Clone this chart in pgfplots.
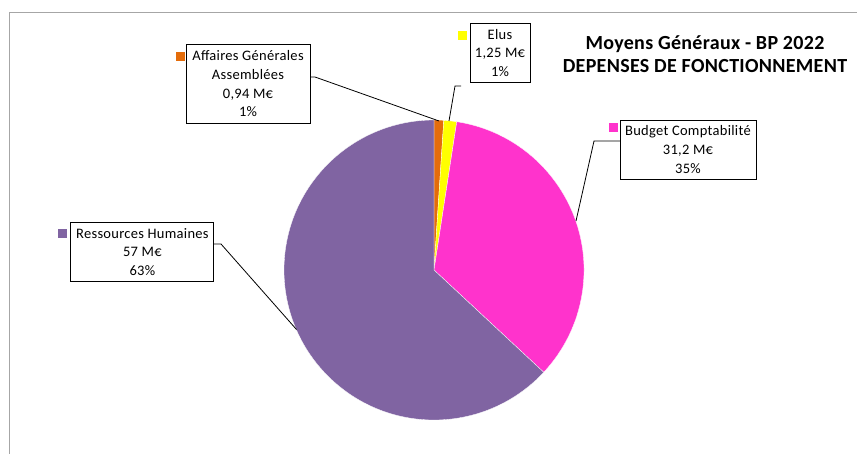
\documentclass[border=0pt]{standalone}
\usepackage{pgfplots}
\pgfplotsset{compat=1.18}
\usepackage{fontspec}
\setmainfont{Carlito}
\definecolor{cAff}{RGB}{228,108,10}
\definecolor{cElu}{RGB}{255,255,0}
\definecolor{cBud}{RGB}{255,51,204}
\definecolor{cRH}{RGB}{128,100,162}
\definecolor{frame}{RGB}{166,166,166}
% data (M€)
\def\vA{0.94}% Affaires Generales Assemblees
\def\vB{1.25}% Elus
\def\vC{31.2}% Budget Comptabilite
\def\vD{57}% Ressources Humaines
\pgfmathsetmacro\tot{\vA+\vB+\vC+\vD}
\pgfmathsetmacro\aA{90-360*(\vA/\tot)}
\pgfmathsetmacro\aB{\aA-360*(\vB/\tot)}
\pgfmathsetmacro\aC{\aB-360*(\vC/\tot)}
\pgfmathsetmacro\aD{\aC-360*(\vD/\tot)}
\tikzset{lbl/.style={draw=black, line width=0.9bp, fill=white, align=center, inner sep=0pt,
  font=\fontsize{14.5bp}{18.8bp}\selectfont\addfontfeature{LetterSpace=2}}}
\begin{document}
\begin{tikzpicture}
\begin{axis}[width=857bp, height=454bp, scale only axis, xmin=0, xmax=857, ymin=0, ymax=454,
  y dir=reverse, axis lines=none, clip=false]
% frame
\draw[frame, line width=1bp] (axis cs:9,460) -- (axis cs:9,13) -- (axis cs:860,13);
% pie
\fill[cAff, draw=white, line width=0.3bp] (axis cs:434,270) -- ++(90:150bp) arc[start angle=90, end angle=\aA, radius=150bp] -- cycle;
\fill[cElu, draw=white, line width=0.3bp] (axis cs:434,270) -- ++(\aA:150bp) arc[start angle=\aA, end angle=\aB, radius=150bp] -- cycle;
\fill[cBud, draw=white, line width=0.3bp] (axis cs:434,270) -- ++(\aB:150bp) arc[start angle=\aB, end angle=\aC, radius=150bp] -- cycle;
\fill[cRH, draw=white, line width=0.3bp] (axis cs:434,270) -- ++(\aC:150bp) arc[start angle=\aC, end angle=\aD, radius=150bp] -- cycle;
% leader lines
\draw[black, line width=0.8bp] (axis cs:310,77) -- (axis cs:315,77) -- (axis cs:439,121);
\draw[black, line width=0.8bp] (axis cs:461,86) -- (axis cs:455,86) -- (axis cs:449,121);
\draw[black, line width=0.8bp] (axis cs:620,141) -- (axis cs:594,141) -- (axis cs:576,221);
\draw[black, line width=0.8bp] (axis cs:214,244) -- (axis cs:221,244) -- (axis cs:296.5,329.5);
% labels
\node[lbl, minimum width=124bp, minimum height=79bp] at (axis cs:248,83.8) {Affaires Générales\\Assemblées\\0,94 M€\\1\%};
\node[lbl, minimum width=60bp, minimum height=59bp] at (axis cs:500,53) {Elus\\1,25 M€\\1\%};
\node[lbl, minimum width=136bp, minimum height=59bp] at (axis cs:688,149.5) {Budget Comptabilité\\31,2 M€\\35\%};
\node[lbl, minimum width=143bp, minimum height=59bp] at (axis cs:142.4,252) {Ressources Humaines\\57 M€\\63\%};
% legend keys
\fill[cAff] (axis cs:175.5,52) rectangle (axis cs:184.5,61);
\fill[cElu] (axis cs:458,31) rectangle (axis cs:467,40);
\fill[cBud] (axis cs:609,123) rectangle (axis cs:618,132);
\fill[cRH] (axis cs:57.5,229) rectangle (axis cs:66.5,238);
% title
\node[align=center, font=\fontsize{20bp}{22.5bp}\selectfont\bfseries\addfontfeature{LetterSpace=1.5}] at (axis cs:705,54) {Moyens Généraux - BP 2022\\DEPENSES DE FONCTIONNEMENT};
\end{axis}
\pgfresetboundingbox
\path (0,0) rectangle (857bp,454bp);
\end{tikzpicture}
\end{document}
